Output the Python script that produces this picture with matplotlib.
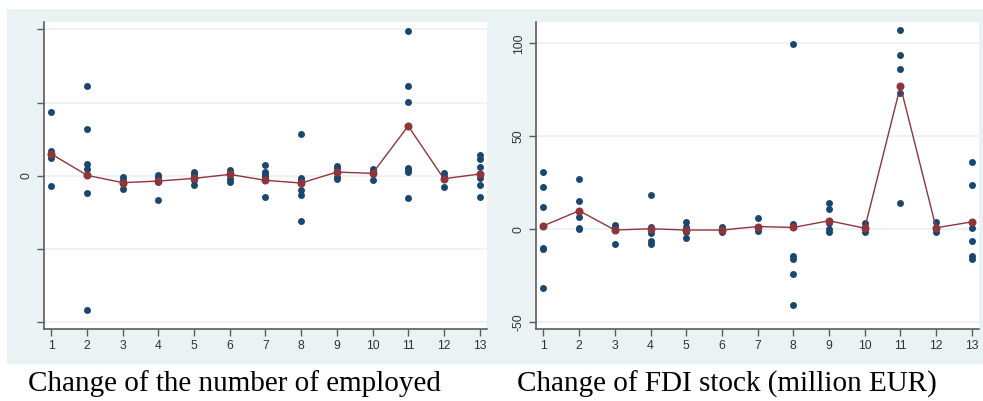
import matplotlib
matplotlib.use("Agg")
import matplotlib.pyplot as plt

# Periods on the x axis
periods = list(range(1, 13 + 1))

# Change of the number of employed: individual observations per period
emp_obs = {
    1: [86.6, 34.2, 28.0, 23.8, -13.7],
    2: [122.5, 64.2, 16.0, 8.7, 0.5, -23.6, -183.5],
    3: [-2.2, -5.9, -10.4, -17.8],
    4: [0.5, -2.2, -5.9, -8.2, -33.6],
    5: [5.0, 1.8, -1.4, -5.9, -12.7],
    6: [7.8, 4.1, 0.5, -4.5, -8.2],
    7: [15.0, 5.0, 2.3, -0.4, -3.6, -29.1],
    8: [56.6, -2.7, -5.9, -19.1, -26.8, -61.4],
    9: [13.7, 11.0, 5.0, -1.4, -4.1],
    10: [8.7, 6.0, 2.3, -5.9],
    11: [197.3, 123.0, 100.7, 11.0, 7.3, 5.5, -30.9],
    12: [3.2, -0.4, -4.1, -15.0],
    13: [28.7, 22.4, 11.9, 2.3, -2.7, -12.7, -29.1],
}
emp_mean = [29.6, 0.5, -9.5, -7.3, -3.6, 1.8, -6.3, -10.0, 5.0, 3.2, 67.9, -4.1, 2.3]
emp_ticks = [-200, -100, 0, 100, 200]
emp_ticklabels = ["", "", "0", "", ""]

# Change of FDI stock (million EUR): individual observations per period
fdi_obs = {
    1: [31.0, 22.4, 11.7, -10.0, -10.9, -31.9],
    2: [26.7, 15.1, 6.5, 0.7, 0.3],
    3: [2.3, 1.3, -0.5, -8.1],
    4: [18.3, 0.9, -2.0, -6.6, -8.1],
    5: [3.6, 1.3, -1.8, -5.0],
    6: [1.3, 0.2, -0.5, -1.3],
    7: [6.1, 0.7, -1.1],
    8: [99.5, 3.0, -14.2, -16.1, -24.4, -41.0],
    9: [14.3, 10.6, 3.4, -0.2, -1.3],
    10: [3.4, 1.3, -1.4],
    11: [107.4, 93.5, 86.0, 73.0, 14.3],
    12: [3.6, 0.7, -1.4],
    13: [36.0, 24.0, 0.5, -6.6, -14.5, -16.3],
}
fdi_mean = [1.8, 9.9, -0.5, 0.2, -0.5, -0.5, 1.4, 0.9, 4.5, 0.5, 76.9, 0.7, 3.9]
fdi_ticks = [-50, 0, 50, 100]
fdi_ticklabels = ["-50", "0", "50", "100"]

captions = ["Change of the number of employed", "Change of FDI stock (million EUR)"]

BG = "#EAF2F3"
NAVY = "#1A476F"
MAROON = "#90353B"
AXIS = "#5c5c5c"

W, H = 983, 401
fig = plt.figure(figsize=(W / 100, H / 100), dpi=100)
fig.patch.set_facecolor("white")

# Shaded graph region behind both panels
bg_ax = fig.add_axes([7 / W, 1 - 364 / H, (983 - 7) / W, (364 - 9) / H], zorder=0)
bg_ax.set_facecolor(BG)
bg_ax.set_xticks([])
bg_ax.set_yticks([])
for s in bg_ax.spines.values():
    s.set_visible(False)


def panel(rect, obs, means, ticks, ticklabels, ylim, caption, cap_x):
    ax = fig.add_axes(rect, zorder=2)
    ax.set_facecolor("white")
    for k in ticks:
        ax.axhline(k, color=BG, lw=1.3, zorder=1)
    xs, ys = [], []
    for p in periods:
        for v in obs[p]:
            xs.append(p)
            ys.append(v)
    ax.plot(xs, ys, "o", color=NAVY, ms=5.0, mec="none", zorder=3)
    ax.plot(periods, means, "-", color=MAROON, lw=1.0, zorder=4)
    ax.plot(periods, means, "o", color=MAROON, ms=5.8, mec="none", zorder=5)
    ax.set_xlim(0.79, 13.21)
    ax.set_ylim(*ylim)
    ax.set_xticks(periods)
    ax.set_xticklabels([str(p) for p in periods], fontsize=8.8,
                       family="Liberation Sans", color="#333333")
    ax.set_yticks(ticks)
    ax.set_yticklabels(ticklabels, fontsize=8.8, family="Liberation Sans",
                       color="#333333", rotation=90, va="center")
    for s in ("top", "right"):
        ax.spines[s].set_visible(False)
    for s in ("left", "bottom"):
        ax.spines[s].set_color(AXIS)
        ax.spines[s].set_linewidth(1.2)
    ax.tick_params(axis="both", direction="out", length=5, width=1.0,
                   color=AXIS, pad=3)
    ax.grid(False)
    fig.text(cap_x / W, 1 - 384 / H, caption, ha="center", va="center",
             fontsize=21, family="Liberation Serif", color="black")
    return ax


panel([44 / W, 1 - 329.3 / H, (487 - 44) / W, (329.3 - 21.7) / H],
      emp_obs, emp_mean, emp_ticks, emp_ticklabels, (-209.8, 210.4),
      captions[0], 234)
panel([536 / W, 1 - 329.3 / H, (979.3 - 536) / W, (329.3 - 21.7) / H],
      fdi_obs, fdi_mean, fdi_ticks, fdi_ticklabels, (-53.9, 111.6),
      captions[1], 727)

fig.savefig("out.png", dpi=100, facecolor="white")
